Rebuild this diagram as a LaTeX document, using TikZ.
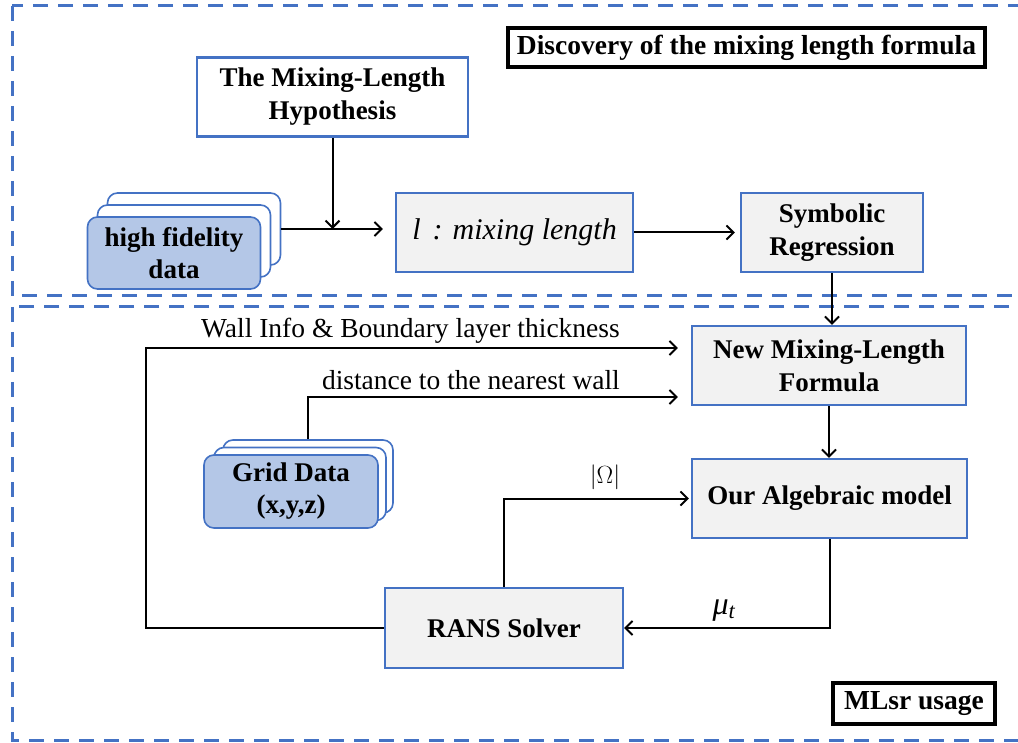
\documentclass[tikz,border=0pt]{standalone}
\usepackage{fontspec}
\setmainfont{Liberation Serif}
\usetikzlibrary{arrows.meta,calc}
\definecolor{bord}{HTML}{4472C4}
\definecolor{grayfill}{HTML}{F2F2F2}
\definecolor{bluefill}{HTML}{B4C7E7}
\begin{document}
\begin{tikzpicture}[x=1pt,y=-1pt,
  frame/.style={draw=bord, line width=3pt, dash pattern=on 15pt off 10pt},
  box/.style={draw=bord, line width=2.2pt, fill=grayfill, align=center, inner sep=0pt,
    font=\fontsize{27}{33}\selectfont\bfseries},
  card/.style={draw=bord, line width=1.6pt, fill=white, rounded corners=10pt, inner sep=0pt,
    align=center, font=\fontsize{27}{32}\selectfont\bfseries},
  ttl/.style={draw=black, line width=3.5pt, fill=white, inner sep=0pt,
    font=\fontsize{27.5}{33}\selectfont\bfseries},
  lbl/.style={inner sep=0pt, font=\fontsize{27.5}{33}\selectfont},
  conn/.style={line width=2pt, -{Straight Barb[length=7pt,width=14pt,line width=2pt]}}]
\useasboundingbox (0,0) rectangle (1018,743);
\clip (0,0) rectangle (1018,743);
\fill[white] (0,0) rectangle (1018,743);
% frames
\draw[frame] (12,6) rectangle (1040,296);
\draw[frame] (12,307) rectangle (1040,740);
% titles
\node[ttl, minimum width=477pt, minimum height=39pt] (title1) at (746.5,47.5) {Discovery of the mixing length formula};
\node[ttl, minimum width=162pt, minimum height=41pt] (title2) at (914,703.5) {MLsr usage};
% upper boxes
\node[box, fill=white, minimum width=271pt, minimum height=79pt] (hyp) at (332.5,97) {The Mixing-Length\\Hypothesis};
\node[box, minimum width=237pt, minimum height=79pt, font=\fontsize{30}{33}\selectfont\itshape] (lbox) at (514.5,232.5) {l\hspace{12pt}: mixing length};
\node[box, minimum width=182pt, minimum height=79pt] (sym) at (832,232.5) {Symbolic\\Regression};
% high fidelity stack
\node[card, minimum width=173pt, minimum height=72pt] (hfdback) at (194,229) {};
\node[card, minimum width=173pt, minimum height=72pt] (hfdmid) at (184,241) {};
\node[card, fill=bluefill, minimum width=173pt, minimum height=72pt] (hfd) at (174,253) {high fidelity\\data};
% lower boxes
\node[box, minimum width=274pt, minimum height=79pt] (new) at (829,365.5) {New Mixing-Length\\Formula};
\node[box, minimum width=275pt, minimum height=79pt] (alg) at (829.5,498.5) {Our Algebraic model};
\node[box, minimum width=238pt, minimum height=80pt] (rans) at (504,628) {RANS Solver};
% grid stack
\node[card, minimum width=170pt, minimum height=73pt] (gridback) at (308,476.5) {};
\node[card, minimum width=172pt, minimum height=73pt] (gridmid) at (300,484) {};
\node[card, fill=bluefill, minimum width=174pt, minimum height=73pt] (grid) at (291,491.5) {Grid Data\\(x,y,z)};
% connectors upper
\draw[conn] (hyp.south) -- (hyp.south |- hfdback.east);
\draw[conn, shorten >=12pt] (hfdback.east) -- (hfdback.east -| lbox.west);
\draw[conn, shorten >=5pt] (lbox.east) -- (sym.west);
\draw[conn] (sym.south) -- (sym.south |- new.north);
% connectors lower
\draw[conn] (new.south) -- (new.south |- alg.north);
\coordinate (wallturn) at (146,348);
\draw[conn, shorten >=13pt] (rans.west) -| (wallturn) -- ($(new.west)+(0,-17.5)$);
\draw[conn, shorten >=13pt] (gridback.north) |- ($(new.west)+(0,31.5)$);
\draw[conn, shorten >=2pt] (rans.north) |- (alg.west);
\draw[conn] (alg.south) |- (rans.east);
% labels
\node[lbl, anchor=base east] (wlabel) at (620,338) {Wall Info \& Boundary layer thickness};
\node[lbl, anchor=base east] (dlabel) at (620,389) {distance to the nearest wall};
\node[lbl, font=\fontsize{30}{33}\selectfont] (omlabel) at (605,477) {$|\Omega|$};
\node[lbl, font=\fontsize{32}{33}\selectfont\itshape] (mulabel) at (724,611) {μ\textsubscript{t}};
\end{tikzpicture}
\end{document}
